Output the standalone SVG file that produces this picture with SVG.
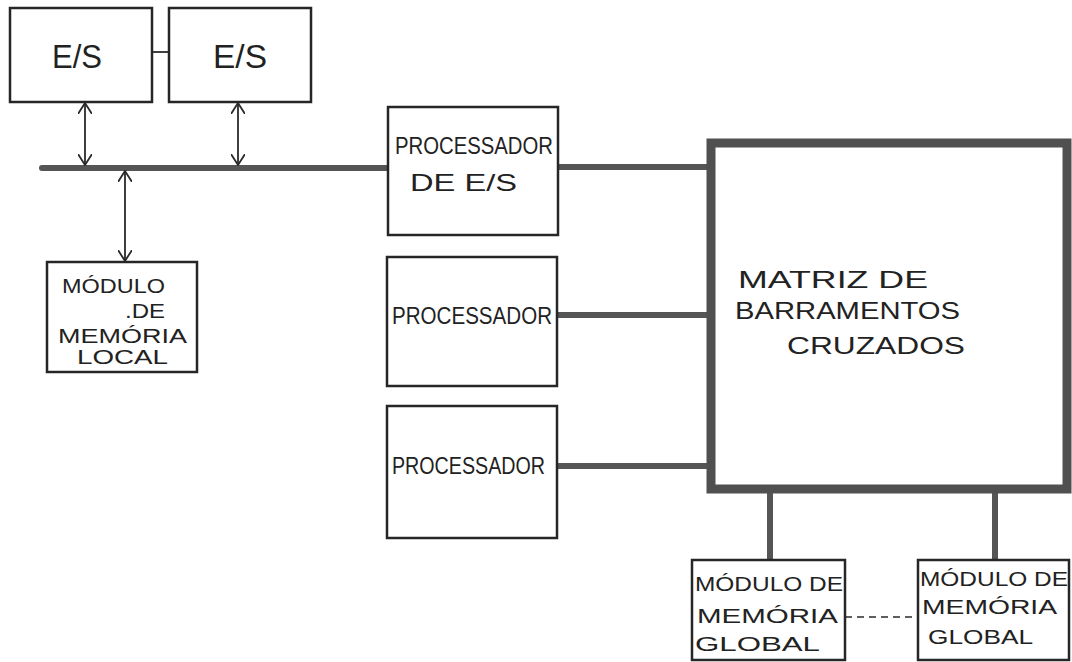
<svg xmlns="http://www.w3.org/2000/svg" width="1072" height="662" viewBox="0 0 1072 662">
<style>
.box{fill:#fff;stroke:#262626;stroke-width:2.5}
.big{fill:#fff;stroke:#505050;stroke-width:9}
.thick{stroke:#555;stroke-width:6;fill:none}
.thin{stroke:#2a2a2a;stroke-width:1.8;fill:none}
.dash{stroke:#2a2a2a;stroke-width:1.6;fill:none;stroke-dasharray:7 5}
text{font-family:"Liberation Sans","DejaVu Sans",sans-serif;fill:#222}
.t20{font-size:21px}
.t22{font-size:24px}
.t23{font-size:24px}
.t32{font-size:33px}
</style>
<defs>
<marker id="v" viewBox="0 0 12 14" refX="11" refY="7" markerWidth="12" markerHeight="14" markerUnits="userSpaceOnUse" orient="auto-start-reverse">
<path d="M0,0 L11,7 L0,14" fill="none" stroke="#2a2a2a" stroke-width="1.8"/>
</marker>
</defs>
<g id="connectors">
<line class="thick" x1="42" y1="168" x2="388" y2="168" stroke-linecap="round"/>
<line class="thin" x1="152" y1="52" x2="169" y2="52"/>
<line class="thin" x1="85" y1="103" x2="85" y2="165" marker-start="url(#v)" marker-end="url(#v)"/>
<line class="thin" x1="238" y1="103" x2="238" y2="165" marker-start="url(#v)" marker-end="url(#v)"/>
<line class="thin" x1="125" y1="171" x2="125" y2="261" marker-start="url(#v)" marker-end="url(#v)"/>
<line class="thick" x1="558" y1="167" x2="708" y2="167"/>
<line class="thick" x1="557" y1="315" x2="708" y2="315"/>
<line class="thick" x1="557" y1="466" x2="708" y2="466"/>
<line class="thick" x1="770" y1="490" x2="770" y2="560"/>
<line class="thick" x1="995" y1="490" x2="995" y2="560"/>
<line class="dash" x1="845" y1="617" x2="918" y2="617"/>
</g>
<g id="es1">
<rect class="box" x="10" y="8" width="142" height="94"/>
<text class="t32" x="52" y="68" textLength="50" lengthAdjust="spacingAndGlyphs">E/S</text>
</g>
<g id="es2">
<rect class="box" x="169" y="8" width="142" height="94"/>
<text class="t32" x="213" y="68" textLength="54" lengthAdjust="spacingAndGlyphs">E/S</text>
</g>
<g id="memlocal">
<rect class="box" x="47" y="262" width="150" height="110"/>
<text class="t20" x="62" y="293" textLength="103" lengthAdjust="spacingAndGlyphs">MÓDULO</text>
<text class="t20" x="125" y="318" textLength="40" lengthAdjust="spacingAndGlyphs">.DE</text>
<text class="t20" x="58" y="343" textLength="129" lengthAdjust="spacingAndGlyphs">MEMÓRIA</text>
<text class="t20" x="77" y="364" textLength="91" lengthAdjust="spacingAndGlyphs">LOCAL</text>
</g>
<g id="procES">
<rect class="box" x="388" y="107" width="170" height="128"/>
<text class="t22" x="395" y="154" textLength="158" lengthAdjust="spacingAndGlyphs">PROCESSADOR</text>
<text class="t22" x="410" y="191" textLength="107" lengthAdjust="spacingAndGlyphs">DE  E/S</text>
</g>
<g id="proc1">
<rect class="box" x="387" y="257" width="170" height="129"/>
<text class="t22" x="392" y="324" textLength="160" lengthAdjust="spacingAndGlyphs">PROCESSADOR</text>
</g>
<g id="proc2">
<rect class="box" x="387" y="406" width="170" height="132"/>
<text class="t22" x="392" y="474" textLength="153" lengthAdjust="spacingAndGlyphs">PROCESSADOR</text>
</g>
<g id="matriz">
<rect class="big" x="711" y="143" width="356" height="346"/>
<text class="t23" x="738" y="288" textLength="190" lengthAdjust="spacingAndGlyphs">MATRIZ    DE</text>
<text class="t23" x="735" y="319" textLength="225" lengthAdjust="spacingAndGlyphs">BARRAMENTOS</text>
<text class="t23" x="787" y="354" textLength="178" lengthAdjust="spacingAndGlyphs">CRUZADOS</text>
</g>
<g id="memglobal1">
<rect class="box" x="692" y="560" width="153" height="100"/>
<text class="t20" x="695" y="591" textLength="148" lengthAdjust="spacingAndGlyphs">MÓDULO DE</text>
<text class="t20" x="697" y="623" textLength="141" lengthAdjust="spacingAndGlyphs">MEMÓRIA</text>
<text class="t20" x="695" y="651" textLength="125" lengthAdjust="spacingAndGlyphs">GLOBAL</text>
</g>
<g id="memglobal2">
<rect class="box" x="918" y="560" width="151" height="100"/>
<text class="t20" x="920" y="586" textLength="148" lengthAdjust="spacingAndGlyphs">MÓDULO DE</text>
<text class="t20" x="922" y="614" textLength="135" lengthAdjust="spacingAndGlyphs">MEMÓRIA</text>
<text class="t20" x="928" y="644" textLength="105" lengthAdjust="spacingAndGlyphs">GLOBAL</text>
</g>
</svg>
